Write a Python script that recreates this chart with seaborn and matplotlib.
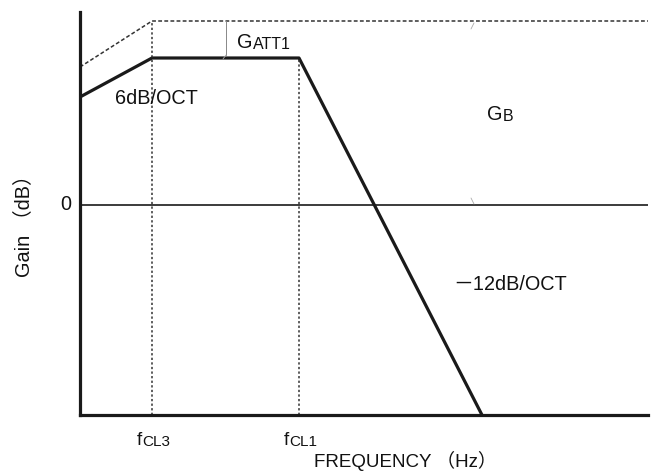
import numpy as np
import pandas as pd
import seaborn as sns
import matplotlib.pyplot as plt

# schematic response, x in arbitrary octave units, y in arbitrary dB units
resp_x = [0, 72, 219, 402]
resp_y = [108, 147, 147, -210]
ideal_x = [0, 72, 568]
ideal_y = [138, 184, 184]
corner_x = [72, 219]
corner_labels = [("f", "CL3"), ("f", "CL1")]
corner_top = [184, 147]

sns.set_theme(style="white")
plt.rcParams['font.family'] = ['Liberation Sans', 'DejaVu Sans']
cjk = ['Liberation Sans', 'Noto Sans CJK JP', 'DejaVu Sans']

fig = plt.figure(figsize=(6.53, 4.74), dpi=100)
ax = fig.add_axes([80 / 653, (474 - 415) / 474, 568 / 653, 403 / 474])

df = pd.DataFrame({"x": resp_x, "y": resp_y})
sns.lineplot(data=df, x="x", y="y", ax=ax, color="#1a1a1a", lw=2.3, sort=False)
df2 = pd.DataFrame({"x": ideal_x, "y": ideal_y})
sns.lineplot(data=df2, x="x", y="y", ax=ax, color="#333333", lw=1.1,
             ls=(0, (2.5, 1.5)), sort=False)

for cx, top in zip(corner_x, corner_top):
    ax.plot([cx, cx], [-210, top], color="#333333", lw=1.1, ls=(0, (1.5, 1.5)))

ax.axhline(0, color="#1a1a1a", lw=1.2)

# GATT1 marker
ax.plot([146, 146], [150, 184], color="#888888", lw=0.7)
ax.plot([146, 143], [150, 146], color="#aaaaaa", lw=0.6)
# GB brace ends
ax.plot([394, 391], [182, 176], color="#aaaaaa", lw=0.6)
ax.plot([391, 394], [7, 1], color="#aaaaaa", lw=0.6)

ax.set_xlim(0, 568)
ax.set_ylim(-210, 193)
sns.despine(ax=ax)
for side in ["left", "bottom"]:
    ax.spines[side].set_linewidth(2.3)
    ax.spines[side].set_color("#1a1a1a")
ax.set_xticks([])
ax.set_yticks([])
ax.set_xlabel("")
ax.set_ylabel("")

fs = 14.3
sm = 11.5
ink = "#111111"
ax.text(35, 106, "6dB/OCT", fontsize=fs, ha="left", va="center", color=ink)
ax.text(373, -80, "\uff0d12dB/OCT", fontsize=fs, ha="left", va="center",
        family=cjk, color=ink)
ax.text(-14, 0, "0", fontsize=fs, ha="center", va="center", color=ink)


def split_label(x, y, big, small, size=fs, size_small=sm):
    t = ax.annotate(big, (x, y), fontsize=size, ha="left", va="baseline",
                    annotation_clip=False, color=ink)
    ax.annotate(small, (1, 0), xycoords=t, fontsize=size_small, ha="left",
                va="bottom", annotation_clip=False, color=ink)


split_label(157, 157, "G", "ATT1")
split_label(407, 85, "G", "B")
for cx, (b, s) in zip(corner_x, corner_labels):
    split_label(cx - 15, -240, b, s, 13.5, 11)

fig.text(405 / 653, 1 - 461 / 474, "FREQUENCY \uff08Hz\uff09", fontsize=13.5,
         ha="center", va="center", family=cjk, color=ink)
fig.text(24 / 653, 1 - 221 / 474, "Gain \uff08dB\uff09", fontsize=fs,
         rotation=90, ha="center", va="center", family=cjk, color=ink)

fig.savefig("out.png", dpi=100)
